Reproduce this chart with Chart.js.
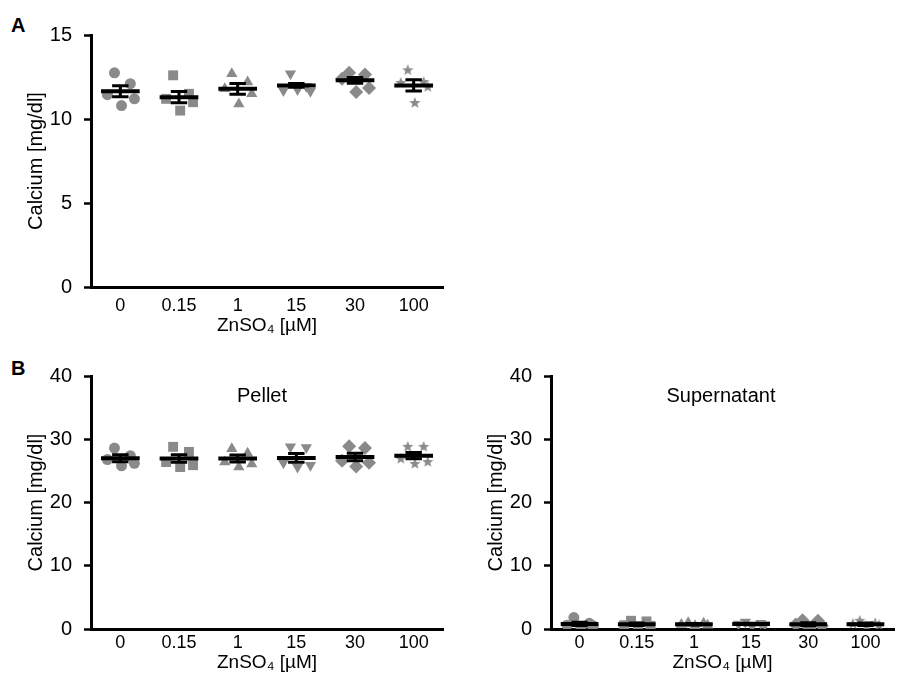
<!DOCTYPE html>
<html>
<head>
<meta charset="utf-8">
<script src="https://cdn.jsdelivr.net/npm/chart.js@4/dist/chart.umd.min.js"></script>
<style>
  body { margin: 0; background: #fff; width: 901px; height: 679px; position: relative; overflow: hidden;
         font-family: 'Liberation Sans', Arial, sans-serif; color: #000; }
  .panel { position: absolute; }
  .letter { position: absolute; font-weight: bold; font-size: 20px; }
  .title { position: absolute; font-size: 20px; transform: translateX(-50%); white-space: nowrap; }
</style>
</head>
<body>
<div class="letter" style="left:11px;top:14px">A</div>
<div class="letter" style="left:11px;top:357px">B</div>
<div class="panel" style="left:0;top:0;width:450px;height:345px"><canvas id="chartA"></canvas></div>
<div class="panel" style="left:0;top:340px;width:450px;height:339px"><canvas id="chartPellet"></canvas></div>
<div class="panel" style="left:460px;top:340px;width:441px;height:339px"><canvas id="chartSuper"></canvas></div>
<div class="title" style="left:262px;top:384px">Pellet</div>
<div class="title" style="left:721px;top:384px">Supernatant</div>
<script>
// Data
const categories = ['0', '0.15', '1', '15', '30', '100'];

const panelAPoints = [
  [12.75, 12.1, 11.45, 11.2, 10.8],
  [12.6, 11.5, 11.2, 11.0, 10.5],
  [12.7, 12.2, 11.8, 11.5, 10.9],
  [12.7, 11.95, 11.7, 11.65, 11.75],
  [12.75, 12.65, 12.4, 11.85, 11.6],
  [12.9, 12.2, 12.15, 11.9, 10.95]
];
const panelAMean = [11.65, 11.3, 11.8, 12.0, 12.3, 12.0];
const panelASem = [0.33, 0.33, 0.32, 0.11, 0.17, 0.33];

const pelletPoints = [
  [28.6, 27.4, 26.8, 26.2, 25.8],
  [28.8, 28.0, 26.4, 25.9, 25.6],
  [28.5, 27.8, 26.4, 26.1, 25.6],
  [28.8, 28.7, 26.3, 25.9, 25.6],
  [28.9, 28.6, 26.6, 26.3, 25.7],
  [28.8, 28.8, 26.9, 26.4, 26.1]
];
const pelletMean = [27.0, 26.95, 26.95, 27.05, 27.2, 27.4];
const pelletSem = [0.55, 0.6, 0.55, 0.7, 0.6, 0.5];

const superPoints = [
  [1.8, 0.9, 0.6, 0.5, 0.3],
  [1.3, 1.2, 0.6, 0.5, 0.4],
  [1.0, 0.9, 0.7, 0.6, 0.5],
  [1.1, 0.9, 0.8, 0.7, 0.5],
  [1.4, 1.3, 0.7, 0.5, 0.1],
  [1.3, 0.9, 0.8, 0.6, 0.4]
];
const superMean = [0.8, 0.75, 0.75, 0.8, 0.75, 0.75];
const superSem = [0.25, 0.2, 0.1, 0.12, 0.25, 0.18];

// Styling
const GRAY = '#8a8a8a';
const FONT = "'Liberation Sans', Arial, sans-serif";
const jitter = [-0.1, 0.17, -0.22, 0.24, 0.02];

// filled five point star as marker image
function makeStar(size) {
  const c = document.createElement('canvas');
  c.width = size; c.height = size;
  const g = c.getContext('2d');
  const cx = size / 2, cy = size / 2, R = size / 2, r = R * 0.42;
  g.beginPath();
  for (let i = 0; i < 10; i++) {
    const rad = i % 2 === 0 ? R : r;
    const a = -Math.PI / 2 + i * Math.PI / 5;
    g.lineTo(cx + rad * Math.cos(a), cy + rad * Math.sin(a));
  }
  g.closePath();
  g.fillStyle = GRAY;
  g.fill();
  return c;
}
const star = makeStar(12);

const markers = [
  { pointStyle: 'circle', radius: 5.5, rotation: 0 },
  { pointStyle: 'rect', radius: 7, rotation: 0 },
  { pointStyle: 'triangle', radius: 6.5, rotation: 0 },
  { pointStyle: 'triangle', radius: 6.5, rotation: 180 },
  { pointStyle: 'rectRot', radius: 7, rotation: 0 },
  { pointStyle: star, radius: 6, rotation: 0 }
];

// mean line + SEM error bar drawn on top of the points
const meanBars = {
  id: 'meanBars',
  afterDatasetsDraw(chart, args, opts) {
    const { ctx, scales: { x, y } } = chart;
    ctx.save();
    ctx.strokeStyle = '#000';
    ctx.lineCap = 'butt';
    opts.means.forEach((m, i) => {
      const yM = y.getPixelForValue(m);
      const yHi = y.getPixelForValue(m + opts.sems[i]);
      const yLo = y.getPixelForValue(m - opts.sems[i]);
      ctx.lineWidth = 3;
      ctx.beginPath();
      ctx.moveTo(x.getPixelForValue(i), yHi);
      ctx.lineTo(x.getPixelForValue(i), yLo);
      [yHi, yLo].forEach(yy => {
        ctx.moveTo(x.getPixelForValue(i - 0.14), yy);
        ctx.lineTo(x.getPixelForValue(i + 0.14), yy);
      });
      ctx.stroke();
      ctx.lineWidth = 4;
      ctx.beginPath();
      ctx.moveTo(x.getPixelForValue(i - 0.33), yM);
      ctx.lineTo(x.getPixelForValue(i + 0.33), yM);
      ctx.stroke();
    });
    ctx.restore();
  }
};

function buildDatasets(points) {
  return points.map((vals, i) => ({
    label: categories[i],
    data: vals.map((v, k) => ({ x: i + jitter[k], y: v })),
    backgroundColor: GRAY,
    borderColor: GRAY,
    borderWidth: 0,
    pointStyle: markers[i].pointStyle,
    pointRadius: markers[i].radius,
    pointRotation: markers[i].rotation
  }));
}

function makePanel(id, points, means, sems, yMax, yStep, xHeight, pad, tickPad, titlePadBottom) {
  new Chart(document.getElementById(id), {
    type: 'scatter',
    data: { datasets: buildDatasets(points) },
    options: {
      responsive: true,
      maintainAspectRatio: false,
      animation: false,
      layout: { padding: pad },
      plugins: {
        legend: { display: false },
        tooltip: { enabled: false },
        meanBars: { means: means, sems: sems }
      },
      scales: {
        x: {
          type: 'linear',
          min: -0.5,
          max: 5.5,
          afterBuildTicks: s => { s.ticks = categories.map((c, i) => ({ value: i })); },
          afterFit: s => { s.height = xHeight; },
          ticks: {
            callback: v => categories[v],
            color: '#000',
            font: { family: FONT, size: 18 },
            padding: tickPad,
            maxRotation: 0
          },
          grid: { display: false, drawTicks: false },
          border: { color: '#000', width: 3 },
          title: {
            display: true,
            text: 'ZnSO\u2084 [\u00b5M]',
            color: '#000',
            font: { family: FONT, size: 19 },
            padding: { top: 0, bottom: titlePadBottom }
          }
        },
        y: {
          min: 0,
          max: yMax,
          afterFit: s => { s.width = 91; },
          ticks: {
            stepSize: yStep,
            color: '#000',
            font: { family: FONT, size: 20 },
            padding: 12
          },
          grid: { drawOnChartArea: false, drawTicks: true, tickLength: 7, tickColor: '#000', tickWidth: 2.5 },
          border: { color: '#000', width: 3 },
          title: {
            display: true,
            text: 'Calcium [mg/dl]',
            color: '#000',
            font: { family: FONT, size: 20 },
            padding: { top: 24, bottom: 0 }
          }
        }
      }
    },
    plugins: [meanBars]
  });
}

makePanel('chartA', panelAPoints, panelAMean, panelASem, 15, 5, 58, { left: 0, top: 35, right: 7, bottom: 0 }, 8, 8);
makePanel('chartPellet', pelletPoints, pelletMean, pelletSem, 40, 10, 50, { left: 0, top: 36, right: 7, bottom: 0 }, 3, 5);
makePanel('chartSuper', superPoints, superMean, superSem, 40, 10, 50, { left: 0, top: 36, right: 3, bottom: 0 }, 3, 5);
</script>
</body>
</html>
